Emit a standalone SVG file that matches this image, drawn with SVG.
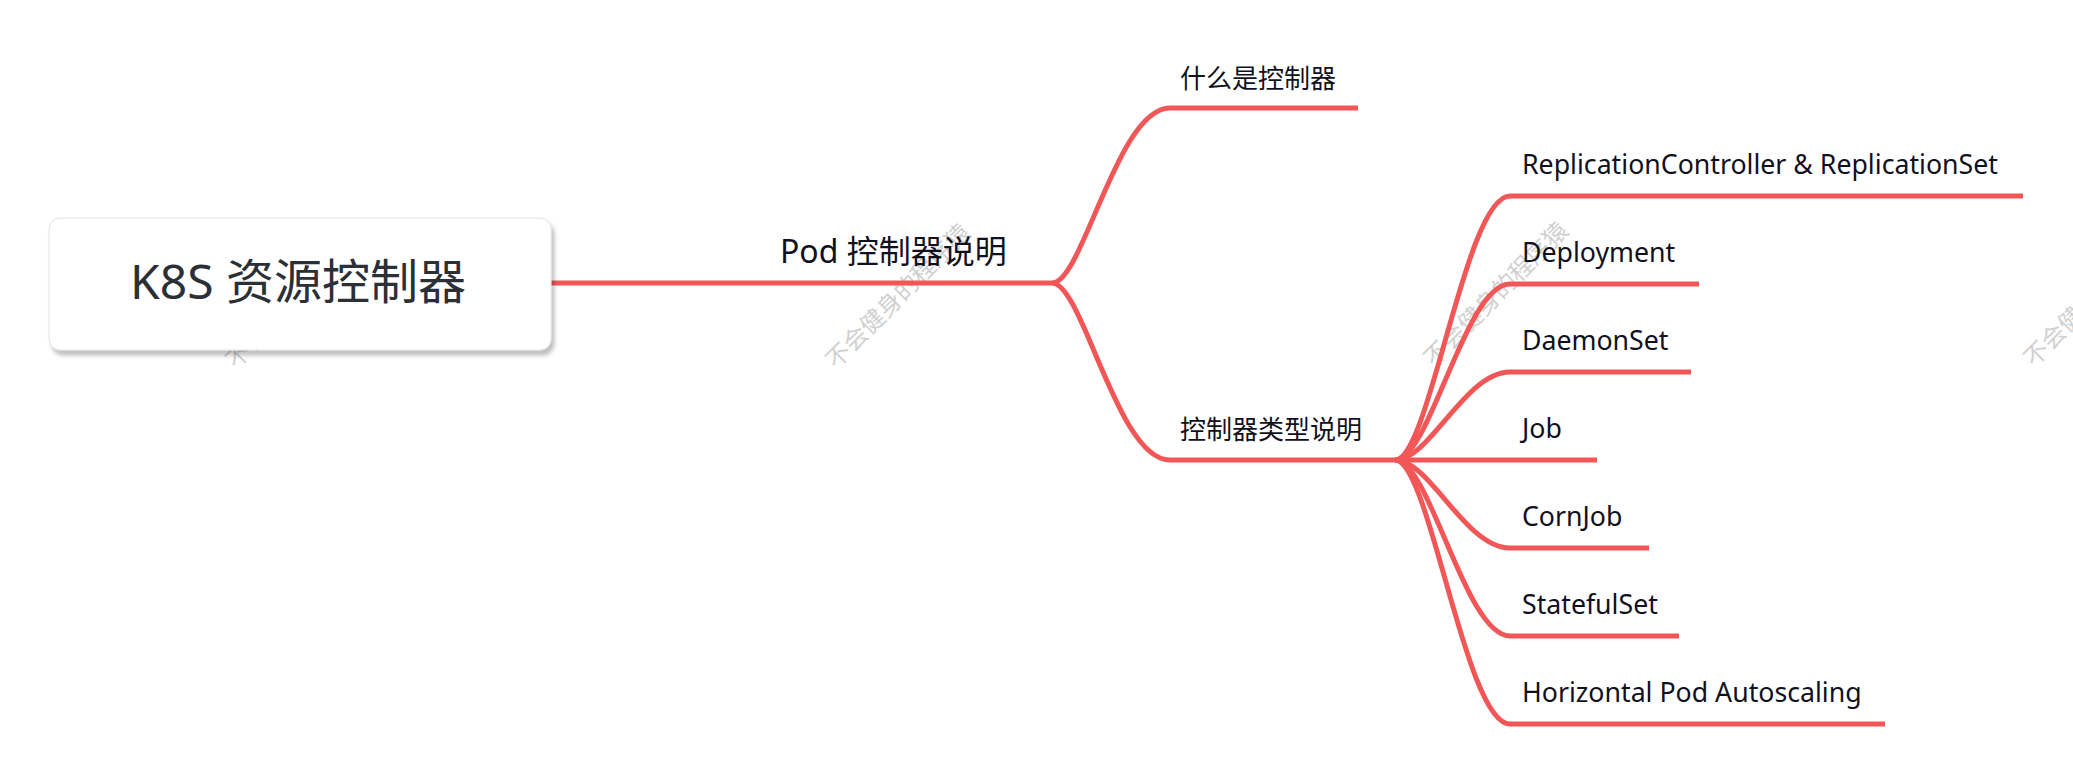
<svg xmlns="http://www.w3.org/2000/svg" width="2073" height="774" viewBox="0 0 2073 774">
  <defs>
    <filter id="shadow" x="-5%" y="-10%" width="115%" height="130%">
      <feDropShadow dx="3" dy="5" stdDeviation="2" flood-color="#000" flood-opacity="0.25"/>
    </filter>
    <style>
      .wm { font-family: "Noto Sans CJK SC", sans-serif; font-size: 24px; fill: #c4c4c4; fill-opacity: 0.8; }
      .conn { fill: none; stroke: #F25757; stroke-width: 5; stroke-linecap: butt; stroke-linejoin: round; }
      .root-text { font-family: "Noto Sans", "Noto Sans CJK SC", sans-serif; font-size: 48px; fill: #2b2f36; }
      .l1 { font-family: "Noto Sans", "Noto Sans CJK SC", sans-serif; font-size: 32px; fill: #10101e; }
      .l2 { font-family: "Noto Sans", "Noto Sans CJK SC", sans-serif; font-size: 26px; fill: #10101e; }
      .l3 { font-family: "Noto Sans", "Noto Sans CJK SC", sans-serif; font-size: 26.7px; fill: #10101e; }
    </style>
  </defs>
  <rect width="2073" height="774" fill="#ffffff"/>

  <g id="watermarks">
    <text class="wm" transform="translate(236,370) rotate(-45)">不会健身的程序猿</text>
    <text class="wm" transform="translate(836,370) rotate(-45)">不会健身的程序猿</text>
    <text class="wm" transform="translate(1434,368) rotate(-45)">不会健身的程序猿</text>
    <text class="wm" transform="translate(2034,368) rotate(-45)">不会健身的程序猿</text>
  </g>

  <g id="connectors">
    <path class="conn" d="M540,283 L1052,283"/>
    <path class="conn" d="M1052,283 C1083,283 1117,108 1170,108 L1358,108"/>
    <path class="conn" d="M1052,283 C1083,283 1117,460 1170,460 L1395,460"/>
    <path class="conn" d="M1395,460 C1430,460 1465,196 1510,196 L2023,196"/>
    <path class="conn" d="M1395,460 C1430,460 1465,284 1510,284 L1699,284"/>
    <path class="conn" d="M1395,460 C1430,460 1465,372 1510,372 L1691,372"/>
    <path class="conn" d="M1395,460 L1597,460"/>
    <path class="conn" d="M1395,460 C1430,460 1465,548 1510,548 L1649,548"/>
    <path class="conn" d="M1395,460 C1430,460 1465,636 1510,636 L1679,636"/>
    <path class="conn" d="M1395,460 C1430,460 1465,724 1510,724 L1885,724"/>
  </g>

  <g id="node-root">
    <rect x="49" y="218" width="502" height="132" rx="11" ry="11" fill="#ffffff" stroke="#e4e4e4" stroke-width="1" filter="url(#shadow)"/>
    <text class="root-text" x="298" y="299" text-anchor="middle">K8S 资源控制器</text>
  </g>

  <g id="node-pod">
    <text class="l1" x="780" y="263">Pod 控制器说明</text>
  </g>

  <g id="node-what">
    <text class="l2" x="1180" y="88">什么是控制器</text>
  </g>

  <g id="node-types">
    <text class="l2" x="1180" y="439">控制器类型说明</text>
  </g>

  <g id="node-rc">
    <text class="l3" x="1522" y="174">ReplicationController &amp; ReplicationSet</text>
  </g>
  <g id="node-deployment">
    <text class="l3" x="1522" y="262">Deployment</text>
  </g>
  <g id="node-daemonset">
    <text class="l3" x="1522" y="350">DaemonSet</text>
  </g>
  <g id="node-job">
    <text class="l3" x="1522" y="438">Job</text>
  </g>
  <g id="node-cornjob">
    <text class="l3" x="1522" y="526">CornJob</text>
  </g>
  <g id="node-statefulset">
    <text class="l3" x="1522" y="614">StatefulSet</text>
  </g>
  <g id="node-hpa">
    <text class="l3" x="1522" y="702">Horizontal Pod Autoscaling</text>
  </g>
</svg>
